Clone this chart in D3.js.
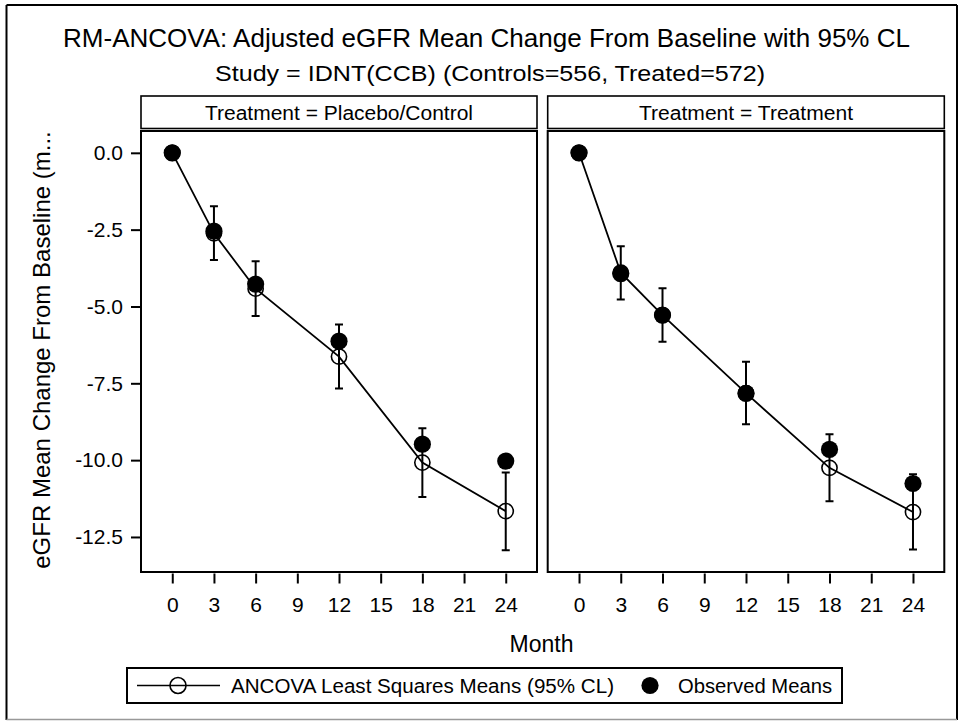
<!DOCTYPE html>
<html>
<head>
<meta charset="utf-8">
<script src="https://cdn.jsdelivr.net/npm/d3@7"></script>
<style>
  html, body { margin: 0; padding: 0; background: #fff; }
  svg { display: block; }
  text { font-family: "Liberation Sans", Arial, Helvetica, sans-serif; fill: #000; }
</style>
</head>
<body>
<svg id="chart" width="960" height="721"></svg>
<script>
// ---------------- data ----------------
const months = [0, 3, 6, 12, 18, 24];
const xTicks = [0, 3, 6, 9, 12, 15, 18, 21, 24];
const yTicks = [0, -2.5, -5, -7.5, -10, -12.5];
const panelLabels = ["Treatment = Placebo/Control", "Treatment = Treatment"];

const lsPlacebo  = [0, -2.62, -4.42, -6.63, -10.08, -11.66];
const lclPlacebo = [null, -3.49, -5.31, -7.67, -11.20, -12.93];
const uclPlacebo = [null, -1.74, -3.53, -5.59, -8.96, -10.40];
const obsPlacebo = [0, -2.55, -4.27, -6.13, -9.48, -10.03];

const lsTreated  = [0, -3.90, -5.28, -7.82, -10.25, -11.69];
const lclTreated = [null, -4.77, -6.15, -8.83, -11.34, -12.91];
const uclTreated = [null, -3.04, -4.41, -6.80, -9.16, -10.46];
const obsTreated = [0, -3.93, -5.28, -7.83, -9.65, -10.76];

const titleText = "RM-ANCOVA: Adjusted eGFR Mean Change From Baseline with 95% CL";
const subtitleText = "Study = IDNT(CCB) (Controls=556, Treated=572)";
const xLabel = "Month";
const yLabel = "eGFR Mean Change From Baseline (m...";
const legendLabels = ["ANCOVA Least Squares Means (95% CL)", "Observed Means"];

// ---------------- layout ----------------
const svg = d3.select("#chart");
const panelTop = 131, panelBottom = 572;
const stripTop = 96, stripBottom = 128.5;
const panelsX = [[141, 537], [547.7, 944.3]];
const stripTextLen = [268, 214];

const panelData = [
  { label: panelLabels[0], ls: lsPlacebo, lcl: lclPlacebo, ucl: uclPlacebo, obs: obsPlacebo },
  { label: panelLabels[1], ls: lsTreated, lcl: lclTreated, ucl: uclTreated, obs: obsTreated }
];

const y = d3.scaleLinear().domain([0.71, -13.64]).range([panelTop, panelBottom]);

// outer border
svg.append("line").attr("x1", 6.5).attr("x2", 6.5).attr("y1", 5).attr("y2", 720).attr("stroke", "#000").attr("stroke-width", 2);
svg.append("line").attr("x1", 6.5).attr("x2", 957).attr("y1", 5).attr("y2", 5).attr("stroke", "#000").attr("stroke-width", 2);
svg.append("line").attr("x1", 957).attr("x2", 957).attr("y1", 5).attr("y2", 720).attr("stroke", "#000").attr("stroke-width", 2);
svg.append("line").attr("x1", 6.5).attr("x2", 957).attr("y1", 719.5).attr("y2", 719.5).attr("stroke", "#999").attr("stroke-width", 1.5);

// titles
svg.append("text").attr("x", 486.5).attr("y", 46.7).attr("text-anchor", "middle")
  .attr("font-size", 25).attr("textLength", 847).attr("lengthAdjust", "spacingAndGlyphs").text(titleText);
svg.append("text").attr("x", 490).attr("y", 80.5).attr("text-anchor", "middle")
  .attr("font-size", 21.5).attr("textLength", 550).attr("lengthAdjust", "spacingAndGlyphs").text(subtitleText);

panelData.forEach((p, i) => {
  const [x0, x1] = panelsX[i];
  const x = d3.scaleLinear().domain([-2.25, 26.25]).range([x0, x1]);
  const g = svg.append("g");

  // strip header
  g.append("rect").attr("x", x0).attr("y", stripTop).attr("width", x1 - x0).attr("height", stripBottom - stripTop)
    .attr("fill", "#fff").attr("stroke", "#000").attr("stroke-width", 1.6);
  g.append("text").attr("x", (x0 + x1) / 2).attr("y", 119.5).attr("text-anchor", "middle")
    .attr("font-size", 19.5).attr("textLength", stripTextLen[i]).attr("lengthAdjust", "spacingAndGlyphs")
    .text(p.label);

  // panel frame
  g.append("rect").attr("x", x0).attr("y", panelTop).attr("width", x1 - x0).attr("height", panelBottom - panelTop)
    .attr("fill", "none").attr("stroke", "#000").attr("stroke-width", 2);

  // x axis
  const xa = g.append("g").attr("transform", `translate(0,${panelBottom + 1.5})`)
    .call(d3.axisBottom(x).tickValues(xTicks).tickSize(10).tickPadding(14).tickFormat(d3.format("d")));
  xa.select(".domain").remove();
  xa.selectAll(".tick line").attr("stroke", "#000").attr("stroke-width", 2);
  xa.selectAll(".tick text").attr("font-size", 21).attr("font-family", null).attr("fill", "#000");

  // y axis only on the first panel
  if (i === 0) {
    const ya = g.append("g").attr("transform", `translate(${x0},0)`)
      .call(d3.axisLeft(y).tickValues(yTicks).tickSize(10).tickPadding(8).tickFormat(d => d.toFixed(1)));
    ya.select(".domain").remove();
    ya.selectAll(".tick line").attr("stroke", "#000").attr("stroke-width", 2);
    ya.selectAll(".tick text").attr("font-size", 21).attr("font-family", null).attr("fill", "#000");
  }

  const pts = months.map((m, k) => ({ m, ls: p.ls[k], lcl: p.lcl[k], ucl: p.ucl[k], obs: p.obs[k] }));

  // LS mean line
  g.append("path").datum(pts)
    .attr("d", d3.line().x(d => x(d.m)).y(d => y(d.ls)))
    .attr("fill", "none").attr("stroke", "#000").attr("stroke-width", 1.8);

  // error bars
  const eb = pts.filter(d => d.lcl !== null);
  const cap = 4;
  g.selectAll(".eb").data(eb).join("path")
    .attr("d", d => `M${x(d.m)},${y(d.ucl)}V${y(d.lcl)}M${x(d.m) - cap},${y(d.ucl)}H${x(d.m) + cap}M${x(d.m) - cap},${y(d.lcl)}H${x(d.m) + cap}`)
    .attr("fill", "none").attr("stroke", "#000").attr("stroke-width", 2);

  // LS mean open circles
  g.selectAll(".ls").data(pts).join("circle")
    .attr("cx", d => x(d.m)).attr("cy", d => y(d.ls)).attr("r", 7.6)
    .attr("fill", "none").attr("stroke", "#000").attr("stroke-width", 1.6);

  // observed means filled circles
  g.selectAll(".obs").data(pts).join("circle")
    .attr("cx", d => x(d.m)).attr("cy", d => y(d.obs)).attr("r", 8.6)
    .attr("fill", "#000");
});

// axis labels
svg.append("text").attr("x", 541.5).attr("y", 651.7).attr("text-anchor", "middle")
  .attr("font-size", 23).text(xLabel);
svg.append("text").attr("transform", "translate(50,350) rotate(-90)").attr("text-anchor", "middle")
  .attr("font-size", 24).text(yLabel);

// legend
const lg = svg.append("g");
lg.append("rect").attr("x", 127).attr("y", 668).attr("width", 715).attr("height", 35)
  .attr("fill", "#fff").attr("stroke", "#000").attr("stroke-width", 2);
lg.append("line").attr("x1", 137).attr("x2", 220).attr("y1", 685.5).attr("y2", 685.5)
  .attr("stroke", "#000").attr("stroke-width", 1.6);
lg.append("circle").attr("cx", 178).attr("cy", 685.5).attr("r", 8)
  .attr("fill", "none").attr("stroke", "#000").attr("stroke-width", 1.6);
lg.append("text").attr("x", 231).attr("y", 693.3).attr("font-size", 19.5)
  .attr("textLength", 383).attr("lengthAdjust", "spacingAndGlyphs").text(legendLabels[0]);
lg.append("circle").attr("cx", 650).attr("cy", 685.5).attr("r", 8.6).attr("fill", "#000");
lg.append("text").attr("x", 678).attr("y", 693.3).attr("font-size", 19.5)
  .attr("textLength", 154).attr("lengthAdjust", "spacingAndGlyphs").text(legendLabels[1]);
</script>
</body>
</html>
